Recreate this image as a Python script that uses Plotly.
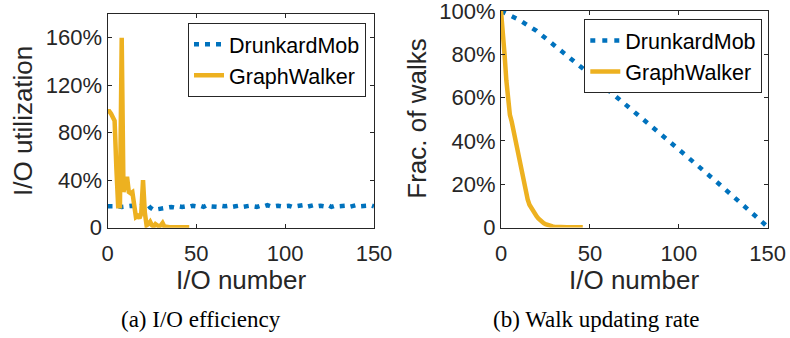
import plotly.graph_objects as go

# ---------------- data ----------------
# (a) I/O efficiency
dm_util_x = list(range(0, 151, 2))
dm_util_y = [18, 18, 18.5, 18, 17.5, 18, 18, 18.5, 18, 18, 19,
             21, 17, 15, 15.5, 16,
             16.5, 17, 17.5, 17, 18, 17.5, 18, 17.5, 18.5, 18,
             18.5, 17.5, 19, 18, 18, 17.5, 18.5, 18, 18.5, 17.5,
             18, 18.5, 17.5, 18, 18.5, 18, 17.5, 18.5, 18, 19,
             18, 18, 18.5, 18, 18, 18.5, 17.5, 18, 18.5, 19,
             17.5, 18, 19, 18, 18.5, 18, 19, 17.5, 18.5, 18,
             18, 18.5, 17.5, 18, 19, 18, 18, 18.5, 19, 18]
gw_util_x = list(range(0, 47))
gw_util_y = [98, 98, 96, 93, 90, 50, 18, 18, 160, 30,
             35, 43, 30, 29, 30, 22, 9, 10, 8, 12,
             40, 13, 2, 3, 5, 2, 1, 3, 2, 1,
             2, 4, 1, 0.5, 0.3, 0.3, 0.3, 0.3, 0.3, 0.3,
             0.3, 0.3, 0.3, 0.3, 0.3, 0.3, 0.3]

# (b) Walk updating rate
dm_frac_x = [0, 10, 20, 30, 40, 50, 60, 70, 80, 90, 100, 110, 120, 130, 140, 149]
dm_frac_y = [100, 96, 90.8, 84.2, 77.6, 70.8, 63.7, 57, 49.9, 43, 36, 29.2, 22, 14.8, 7.5, 1]
gw_frac_x = list(range(0, 47))
gw_frac_y = [100, 92, 80, 68, 58, 52, 49, 45, 40, 35,
             31, 27, 23, 19, 16, 13, 10.5, 9, 7.5, 6.3,
             5.2, 4.2, 3.3, 2.6, 2, 1.6, 1.2, 0.9, 0.7, 0.5,
             0.4, 0.3, 0.3, 0.25, 0.2, 0.2, 0.2, 0.15, 0.15, 0.1,
             0.1, 0.1, 0.1, 0.1, 0.1, 0.1, 0.1]

x_ticks = [0, 50, 100, 150]
util_ticks = [0, 40, 80, 120, 160]
util_labels = ["0", "40%", "80%", "120%", "160%"]
frac_ticks = [0, 20, 40, 60, 80, 100]
frac_labels = ["0", "20%", "40%", "60%", "80%", "100%"]

# ---------------- style ----------------
W, H = 790, 338
BLUE = "#0072BD"
YEL = "#EDB120"
AX = "#262626"
SANS = "Liberation Sans, Arial, sans-serif"
SERIF = "Liberation Serif, Times New Roman, serif"
TICKF = 22
TITLEF = 26
LEGF = 21.5

def px(x):
    return x / W

def py(y):
    return 1 - y / H

fig = go.Figure()

fig.add_trace(go.Scatter(x=dm_util_x, y=dm_util_y, mode="lines", name="DrunkardMob",
                         line=dict(color=BLUE, width=4.5, dash="5px,6px"),
                         xaxis="x", yaxis="y", legend="legend"))
fig.add_trace(go.Scatter(x=gw_util_x, y=gw_util_y, mode="lines", name="GraphWalker",
                         line=dict(color=YEL, width=4.5),
                         xaxis="x", yaxis="y", legend="legend"))
fig.add_trace(go.Scatter(x=dm_frac_x, y=dm_frac_y, mode="lines", name="DrunkardMob",
                         line=dict(color=BLUE, width=4.5, dash="5px,7px"),
                         xaxis="x2", yaxis="y2", legend="legend2"))
fig.add_trace(go.Scatter(x=gw_frac_x, y=gw_frac_y, mode="lines", name="GraphWalker",
                         line=dict(color=YEL, width=4.5),
                         xaxis="x2", yaxis="y2", legend="legend2"))

axis_common = dict(showgrid=False, zeroline=False, showline=True, linecolor=AX,
                   linewidth=1, mirror="ticks", ticks="inside", ticklen=4,
                   tickcolor=AX, tickwidth=1, automargin=False,
                   ticklabeloverflow="allow",
                   tickfont=dict(family=SANS, size=TICKF, color=AX))

fig.update_layout(
    width=W, height=H, autosize=False,
    margin=dict(l=0, r=0, t=0, b=0, autoexpand=False),
    paper_bgcolor="white", plot_bgcolor="white",
    showlegend=True,
    xaxis=dict(domain=[px(107.5), px(374)], range=[0, 150], tickvals=x_ticks,
               anchor="y", ticklabelstandoff=6, **axis_common),
    yaxis=dict(domain=[py(227.7), py(14)], range=[0, 180], tickvals=util_ticks,
               ticktext=util_labels, anchor="x", **axis_common),
    xaxis2=dict(domain=[px(501), px(767.7)], range=[0, 150], tickvals=x_ticks,
                anchor="y2", ticklabelstandoff=6, **axis_common),
    yaxis2=dict(domain=[py(227.5), py(11)], range=[0, 100.01], tickvals=frac_ticks,
                ticktext=frac_labels, anchor="x2", **axis_common),
    legend=dict(x=px(366), y=py(22.7), xanchor="right", yanchor="top",
                bgcolor="white", bordercolor=AX, borderwidth=1,
                font=dict(family=SANS, size=LEGF, color="black"),
                tracegroupgap=0, itemwidth=30),
    legend2=dict(x=px(762.3), y=py(19), xanchor="right", yanchor="top",
                 bgcolor="white", bordercolor=AX, borderwidth=1,
                 font=dict(family=SANS, size=LEGF, color="black"),
                 tracegroupgap=0, itemwidth=30),
)

annos = [
    dict(text="I/O number", x=px(240.8), y=py(280), font=dict(family=SANS, size=TITLEF, color=AX)),
    dict(text="I/O number", x=px(634.3), y=py(280), font=dict(family=SANS, size=TITLEF, color=AX)),
    dict(text="I/O utilization", x=px(23), y=py(121), textangle=-90,
         font=dict(family=SANS, size=TITLEF, color=AX)),
    dict(text="Frac. of walks", x=px(416.7), y=py(119), textangle=-90,
         font=dict(family=SANS, size=TITLEF, color=AX)),
    dict(text="(a) I/O efficiency", x=px(200.5), y=py(319),
         font=dict(family=SERIF, size=23, color="black")),
    dict(text="(b) Walk updating rate", x=px(596.7), y=py(319),
         font=dict(family=SERIF, size=23, color="black")),
]
for a in annos:
    fig.add_annotation(xref="paper", yref="paper", xanchor="center", yanchor="middle",
                       showarrow=False, **a)

fig.write_html("out.html", config={"responsive": False})
